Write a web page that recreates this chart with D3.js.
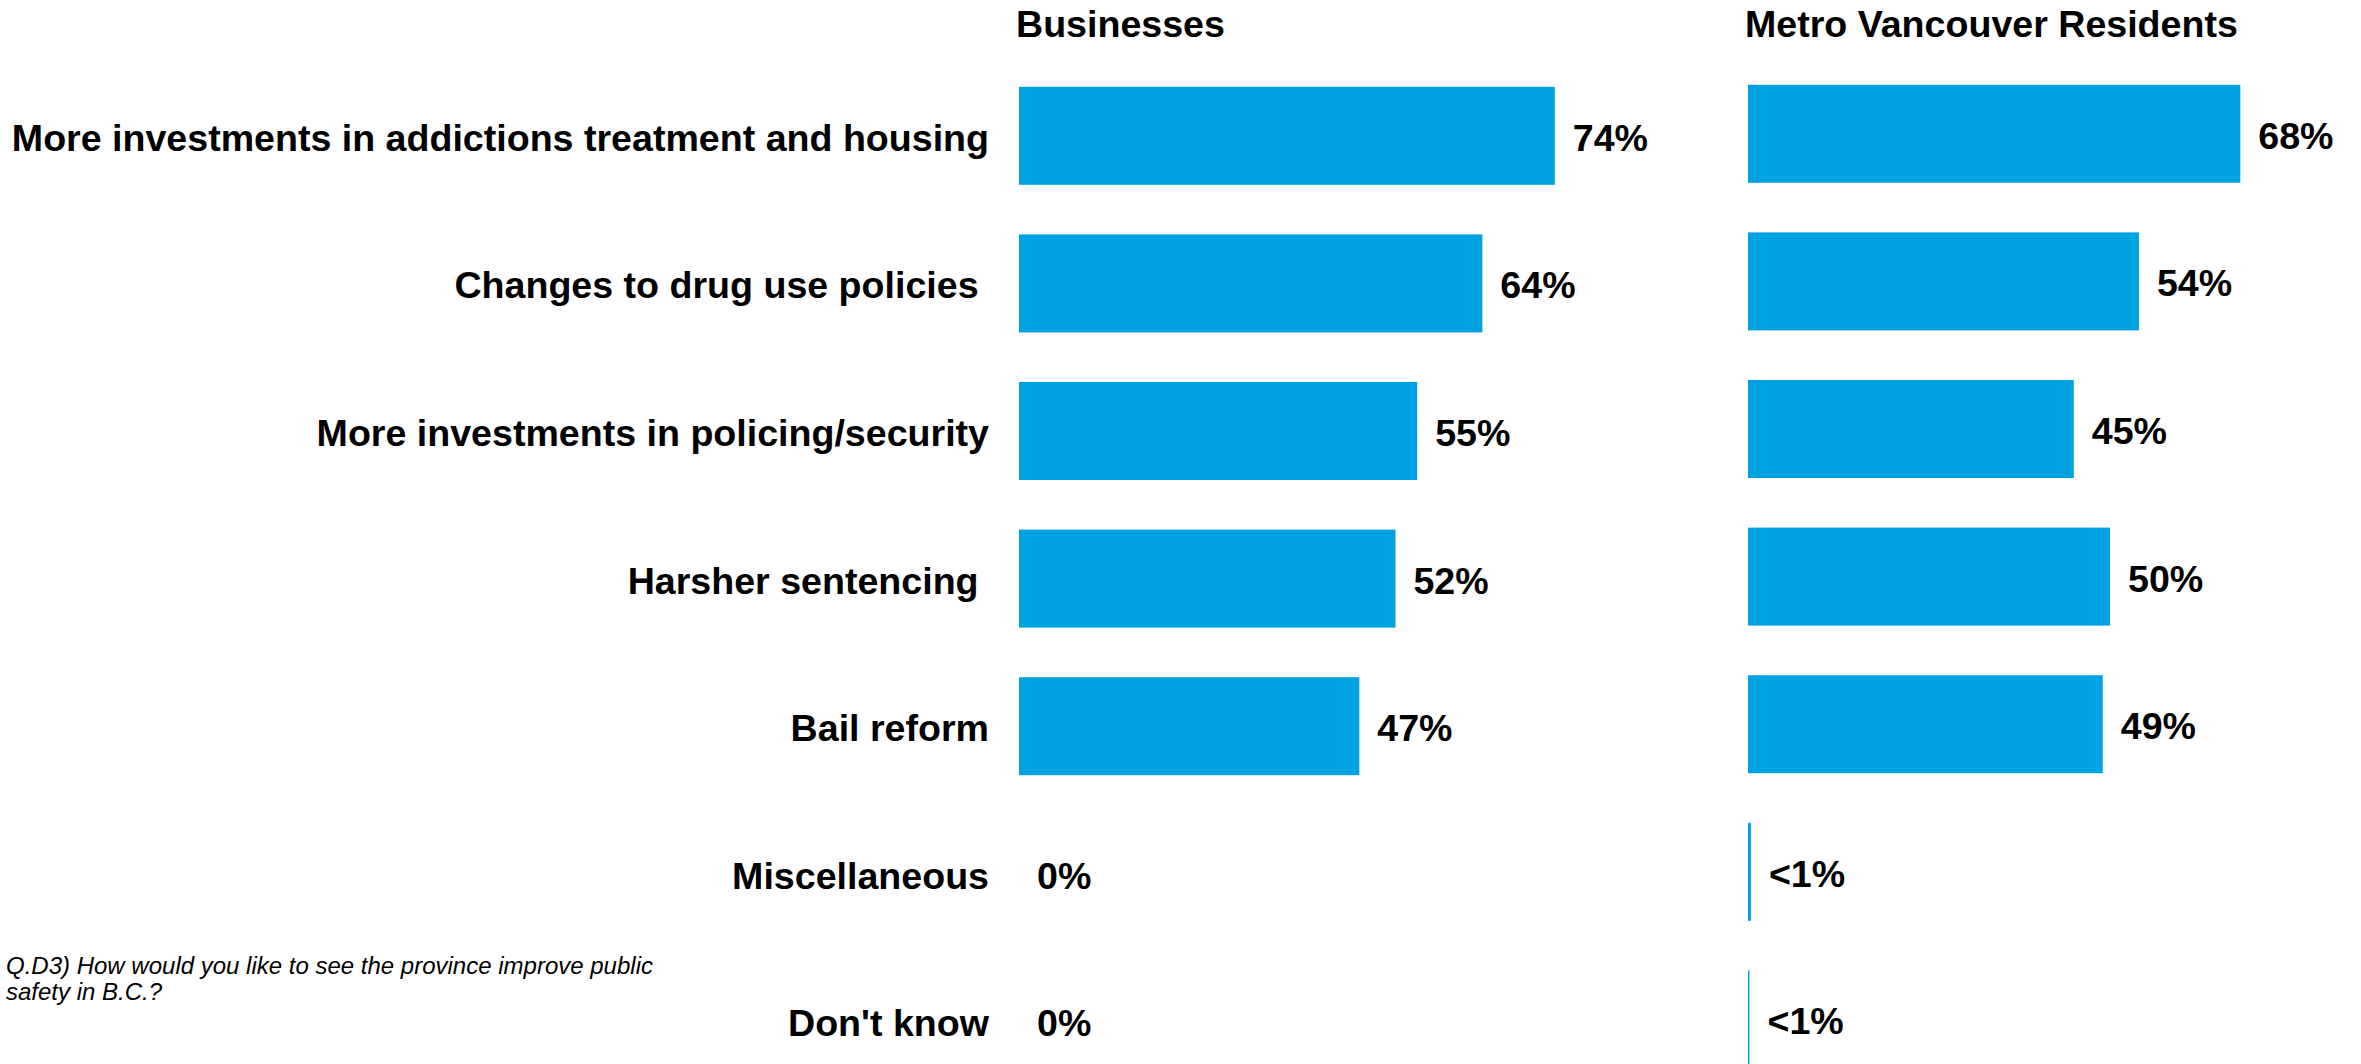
<!DOCTYPE html>
<html><head><meta charset="utf-8">
<script src="https://cdn.jsdelivr.net/npm/d3@7"></script>
<style>
html,body{margin:0;padding:0;background:#fff;}
svg{display:block;font-family:"Liberation Sans",Arial,sans-serif;}
</style></head>
<body>
<svg id="chart" width="2361" height="1064"></svg>
<script>
const categories = [
  "More investments in addictions treatment and housing",
  "Changes to drug use policies ",
  "More investments in policing/security",
  "Harsher sentencing ",
  "Bail reform",
  "Miscellaneous",
  "Don't know"
];
const seriesNames = ["Businesses", "Metro Vancouver Residents"];
const businessValues = [74, 64, 55, 52, 47, 0, 0];
const businessLabels = ["74%", "64%", "55%", "52%", "47%", "0%", "0%"];
const residentValues = [68, 54, 45, 50, 49, 0.4, 0.2];
const residentLabels = ["68%", "54%", "45%", "50%", "49%", "<1%", "<1%"];
const footnoteLines = ["Q.D3) How would you like to see the province improve public", "safety in B.C.?"];

const svg = d3.select("#chart");
const color = "#00A3E2";
const step = 147.6;
const fs = 37.6;

const x = d3.scaleLinear().domain([0, 100]).range([0, 724]);

function panel(x0, top, values, labels, title) {
  const y = d3.scaleBand().domain(categories)
    .range([top, top + categories.length * step])
    .paddingInner(0.336).paddingOuter(0.168);
  const g = svg.append("g").attr("transform", `translate(${x0},0)`);
  g.append("text").attr("x", -3).attr("y", 37)
    .attr("font-size", fs).attr("font-weight", "bold").attr("fill", "#000")
    .text(title);
  g.selectAll("rect.bar").data(categories).enter().append("rect")
    .attr("class", "bar")
    .attr("x", x(0))
    .attr("y", d => y(d))
    .attr("height", y.bandwidth())
    .attr("width", (d, i) => x(values[i]) - x(0))
    .attr("fill", color);
  g.selectAll("text.val").data(categories).enter().append("text")
    .attr("class", "val")
    .attr("x", (d, i) => x(values[i]) + 18)
    .attr("y", d => y(d) + y.bandwidth() / 2)
    .attr("dy", "0.4em")
    .attr("font-size", fs).attr("font-weight", "bold").attr("fill", "#000")
    .text((d, i) => labels[i]);
  return y;
}

const yB = panel(1019, 62, businessValues, businessLabels, seriesNames[0]);
panel(1748, 60, residentValues, residentLabels, seriesNames[1]);

svg.append("g").selectAll("text").data(categories).enter().append("text")
  .attr("x", 989)
  .attr("y", d => yB(d) + yB.bandwidth() / 2)
  .attr("dy", "0.4em")
  .attr("text-anchor", "end")
  .style("white-space", "pre")
  .attr("font-size", fs).attr("font-weight", "bold").attr("fill", "#000")
  .text(d => d);

svg.append("g").selectAll("text").data(footnoteLines).enter().append("text")
  .attr("x", 6)
  .attr("y", (d, i) => 974 + i * 26)
  .attr("font-size", 24).attr("font-style", "italic").attr("fill", "#000")
  .text(d => d);
</script>
</body></html>
